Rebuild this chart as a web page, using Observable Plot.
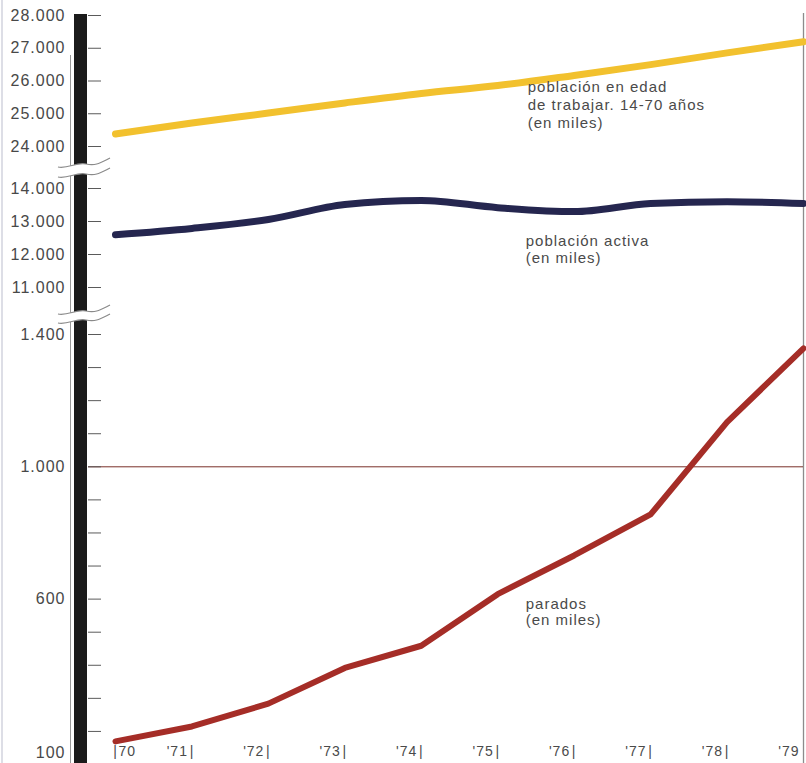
<!DOCTYPE html>
<html><head><meta charset="utf-8">
<script src="https://cdn.jsdelivr.net/npm/d3@7"></script>
<script src="https://cdn.jsdelivr.net/npm/@observablehq/plot@0.6"></script>
<style>
body{margin:0;background:#fff}
#wrap{position:relative;width:806px;height:763px;overflow:hidden;background:#fff}
</style>
</head><body><div id="wrap"></div>
<script>
// ---- data ----
const years = [1970, 1971, 1972, 1973, 1974, 1975, 1976, 1977, 1978, 1979];
const yearLabels = ["'70", "'71", "'72", "'73", "'74", "'75", "'76", "'77", "'78", "'79"];
const workingAge = [24380, 24720, 25020, 25330, 25620, 25860, 26170, 26500, 26860, 27200];
const activePop  = [12600, 12790, 13060, 13515, 13640, 13420, 13300, 13545, 13600, 13545];
const unemployed = [170, 215, 284, 392, 459, 615, 732, 856, 1135, 1358];
const tickValues = [24000, 25000, 26000, 27000, 28000, 11000, 12000, 13000, 14000,
  100, 200, 300, 400, 500, 600, 700, 800, 900, 1000, 1100, 1200, 1300, 1400];
const labelValues = [28000, 27000, 26000, 25000, 24000, 14000, 13000, 12000, 11000, 1400, 1000, 600];
const bottomLabel = [100];
const seriesNames = ["población en edad\nde trabajar. 14-70 años\n(en miles)", "población activa\n(en miles)", "parados\n(en miles)"];
const labelYear = 1975;

const fmt = d3.formatLocale({decimal: ",", thousands: ".", grouping: [3], currency: ["", ""]}).format(",");
const rows = vals => years.map((year, i) => ({year, value: vals[i]}));
const at = (vals, i) => [{year: labelYear, value: vals[years.indexOf(labelYear)], text: seriesNames[i]}];

const plot = Plot.plot({
  width: 806, height: 763,
  marginLeft: 88, marginRight: 3, marginTop: 0, marginBottom: 0,
  style: {fontFamily: "'Liberation Sans', Arial, sans-serif", fontSize: "15px", color: "#4a4a4a", background: "white", letterSpacing: "1px"},
  x: {type: "linear", domain: [1970, 1979], range: [115, 803], axis: null},
  y: {type: "linear", domain: [100, 1400, 11000, 14000, 24000, 28000], range: [764, 334, 287, 188, 146, 15], label: null},
  marks: [
    Plot.ruleX([years[years.length - 1]], {stroke: "#8c8c8c", strokeWidth: 1.3, insetTop: 13}),
    Plot.ruleY([1000], {stroke: "#7a3028", strokeWidth: 1}),
    Plot.ruleY(tickValues, {stroke: "#5a5a5a", strokeWidth: 1, insetRight: 702}),
    Plot.axisY(labelValues, {anchor: "left", tickSize: 0, tickPadding: 23, tickFormat: fmt, fontSize: 16, fill: "#484848", label: null, style: "letter-spacing:0.6px"}),
    Plot.axisY(bottomLabel, {anchor: "left", tickSize: 0, tickPadding: 23, tickFormat: fmt, fontSize: 16, fill: "#484848", label: null, dy: -12, style: "letter-spacing:0.6px"}),
    Plot.line(rows(workingAge), {x: "year", y: "value", stroke: "#f2c12e", strokeWidth: 7, curve: "monotone-x"}),
    Plot.line(rows(activePop), {x: "year", y: "value", stroke: "#25264f", strokeWidth: 7, curve: "monotone-x"}),
    Plot.line(rows(unemployed), {x: "year", y: "value", stroke: "#a52d27", strokeWidth: 6, curve: "linear"}),
    Plot.text(at(workingAge, 0), {x: "year", y: "value", text: "text", textAnchor: "start", lineAnchor: "top", lineHeight: 1.2, dx: 30, dy: -6, fill: "#4a4a4a", fontSize: 15}),
    Plot.text(at(activePop, 1), {x: "year", y: "value", text: "text", textAnchor: "start", lineAnchor: "top", lineHeight: 1.1, dx: 28, dy: 27, fill: "#4a4a4a", fontSize: 15}),
    Plot.text(at(unemployed, 2), {x: "year", y: "value", text: "text", textAnchor: "start", lineAnchor: "top", lineHeight: 1.1, dx: 28, dy: 3, fill: "#4a4a4a", fontSize: 15}),
    Plot.text(years.slice(1), {x: d => d, text: (d, i) => yearLabels[i + 1], frameAnchor: "bottom", dy: -8, dx: -4, textAnchor: "end", fontSize: 14, fill: "#4a4a4a"}),
    Plot.text(years.slice(0, 1), {x: d => d, text: () => yearLabels[0].slice(1), frameAnchor: "bottom", dy: -8, dx: 3, textAnchor: "start", fontSize: 14, fill: "#4a4a4a"}),
    Plot.text(years.slice(0, -1), {x: d => d, text: () => "|", frameAnchor: "bottom", dy: -8, textAnchor: "middle", fontSize: 14, fill: "#4a4a4a"})
  ]
});

const wrap = document.getElementById("wrap");
wrap.append(plot);

// decorative axis bar and scale breaks
const wave = y => `M58,${y + 3} C68,${y + 5} 76,${y - 2} 86,${y} S100,${y - 1} 110,${y - 6}`;
const brk = (y1, y2) => `
  <path d="${wave((y1 + y2) / 2)}" fill="none" stroke="#fff" stroke-width="${y2 - y1}"/>
  <path d="${wave(y1)}" fill="none" stroke="#8a8a8a" stroke-width="1.2"/>
  <path d="${wave(y2)}" fill="none" stroke="#8a8a8a" stroke-width="1.2"/>`;
const ns = "http://www.w3.org/2000/svg";
const ov = document.createElementNS(ns, "svg");
ov.setAttribute("width", 806); ov.setAttribute("height", 763);
ov.style.cssText = "position:absolute;left:0;top:0;pointer-events:none";
ov.innerHTML = `
  <line x1="2" x2="2" y1="0" y2="763" stroke="#d2d3de" stroke-width="1.5"/>
  <line x1="70.5" x2="70.5" y1="55" y2="763" stroke="#9a9a9a" stroke-width="1"/>
  <rect x="74" y="14" width="13" height="749" fill="#1b1b1b"/>
  ${brk(164, 174)}
  ${brk(311, 320)}`;
wrap.append(ov);
</script>
</body></html>
